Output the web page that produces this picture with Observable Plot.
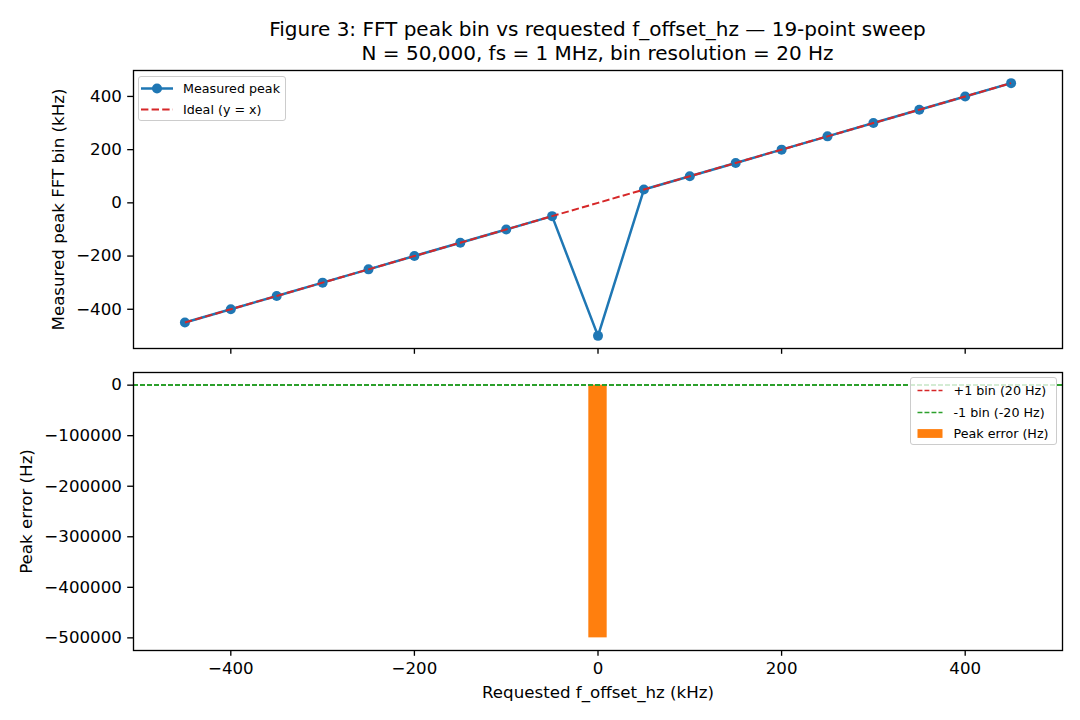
<!DOCTYPE html>
<html>
<head>
<meta charset="utf-8">
<script src="https://cdn.jsdelivr.net/npm/d3@7"></script>
<script src="https://cdn.jsdelivr.net/npm/@observablehq/plot@0.6"></script>
<style>
  body { margin: 0; background: #fff; }
  #fig { position: relative; width: 1080px; height: 720px; background: #fff; overflow: hidden;
         font-family: "DejaVu Sans", sans-serif; color: #000; }
  .title { position: absolute; left: 133px; width: 929px; top: 17px; text-align: center;
           font-size: 20px; line-height: 24px; white-space: nowrap; }
  .panel { position: absolute; left: 0; }
  .legend { position: absolute; background: rgba(255,255,255,0.8); border: 1.33px solid #cccccc;
            border-radius: 3px; box-sizing: border-box; }
  .legend svg { position: absolute; left: 0; top: 0; overflow: visible; }
  .legend span { position: absolute; font-size: 12.7px; line-height: 14px; white-space: nowrap; }
</style>
</head>
<body>
<div id="fig">
  <div class="title">Figure 3: FFT peak bin vs requested f_offset_hz — 19-point sweep<br>N = 50,000, fs = 1 MHz, bin resolution = 20 Hz</div>
  <div class="panel" id="top" style="top:60px"></div>
  <div class="panel" id="bottom" style="top:360px"></div>
</div>
<script>
// 19-point sweep of requested offsets (kHz) and the FFT peak that was found
const requestedKHz = [-450, -400, -350, -300, -250, -200, -150, -100, -50, 0, 50, 100, 150, 200, 250, 300, 350, 400, 450];
const measuredKHz  = [-450, -400, -350, -300, -250, -200, -150, -100, -50, -500, 50, 100, 150, 200, 250, 300, 350, 400, 450];
const peakErrorHz  = [0, 0, 0, 0, 0, 0, 0, 0, 0, -500000, 0, 0, 0, 0, 0, 0, 0, 0, 0];
const binHz = 20;
const barWidthKHz = 20;

const xTicks = [-400, -200, 0, 200, 400];
const yTicksTop = [-400, -200, 0, 200, 400];
const yTicksBottom = [0, -100000, -200000, -300000, -400000, -500000];

const rows = requestedKHz.map((r, i) => ({req: r, meas: measuredKHz[i], err: peakErrorHz[i]}));

// autoscale with a 5% margin on each side
function padded(lo, hi, f = 0.05) { const p = (hi - lo) * f; return [lo - p, hi + p]; }
const xDomain = padded(d3.min(requestedKHz) - barWidthKHz / 2, d3.max(requestedKHz) + barWidthKHz / 2);
const yDomainTop = padded(d3.min([...measuredKHz, ...requestedKHz]), d3.max([...measuredKHz, ...requestedKHz]));
const yDomainBottom = padded(d3.min(peakErrorHz), binHz);

const FONT = "DejaVu Sans";
const TICK_FS = 16.67;
const LABEL_FS = 16.67;
const fmt = d3.format("d");
const common = {
  width: 1080, marginLeft: 133, marginRight: 18,
  style: {fontFamily: FONT, fontSize: TICK_FS + "px", color: "#000", background: "transparent", overflow: "visible"}
};
const tickOpts = {tickSize: 5.8, tickPadding: 5.8, strokeWidth: 1.33, fontSize: TICK_FS, label: null};
const yLabel = (text, dx) =>
  Plot.text([text], {text: d => d, frameAnchor: "left", dx, rotate: -90, textAnchor: "middle", lineAnchor: "middle", fontSize: LABEL_FS});

const topPlot = Plot.plot({
  ...common, height: 300, marginTop: 10, marginBottom: 12,
  x: {domain: xDomain}, y: {domain: yDomainTop},
  marks: [
    Plot.line(rows, {x: "req", y: "meas", stroke: "#1f77b4", strokeWidth: 2.5}),
    Plot.dot(rows, {x: "req", y: "meas", r: 5, fill: "#1f77b4"}),
    Plot.line(rows, {x: "req", y: "req", stroke: "#d62728", strokeWidth: 2,
                     strokeDasharray: "7.4,3.2", strokeLinecap: "butt"}),
    Plot.axisX(xTicks, {...tickOpts, tickFormat: () => ""}),
    Plot.axisY(yTicksTop, {...tickOpts, tickFormat: fmt}),
    yLabel("Measured peak FFT bin (kHz)", -75),
    Plot.frame({stroke: "#000", strokeWidth: 1.33})
  ]
});

const bottomPlot = Plot.plot({
  ...common, height: 360, marginTop: 12, marginBottom: 70,
  x: {domain: xDomain}, y: {domain: yDomainBottom},
  marks: [
    Plot.rect(rows, {x1: d => d.req - barWidthKHz / 2, x2: d => d.req + barWidthKHz / 2, y1: 0, y2: "err", fill: "#ff7f0e"}),
    Plot.ruleY([binHz], {stroke: "#d62728", strokeWidth: 1.33, strokeDasharray: "4.9,2.1", shapeRendering: "crispEdges"}),
    Plot.ruleY([-binHz], {stroke: "#2ca02c", strokeWidth: 1.33, strokeDasharray: "4.9,2.1", shapeRendering: "crispEdges"}),
    Plot.axisX(xTicks, {...tickOpts, tickFormat: fmt}),
    Plot.axisY(yTicksBottom, {...tickOpts, tickFormat: fmt}),
    yLabel("Peak error (Hz)", -107),
    Plot.text(["Requested f_offset_hz (kHz)"], {text: d => d, frameAnchor: "bottom", dy: 42, textAnchor: "middle", lineAnchor: "middle", fontSize: LABEL_FS}),
    Plot.frame({stroke: "#000", strokeWidth: 1.33})
  ]
});

document.getElementById("top").appendChild(topPlot);
document.getElementById("bottom").appendChild(bottomPlot);

// in-axes legends
const NS = "http://www.w3.org/2000/svg";
function legend(box, entries) {
  const div = document.createElement("div");
  div.className = "legend";
  Object.assign(div.style, {left: box.x + "px", top: box.y + "px", width: box.w + "px", height: box.h + "px"});
  const svg = document.createElementNS(NS, "svg");
  svg.setAttribute("width", box.w); svg.setAttribute("height", box.h);
  div.appendChild(svg);
  const add = (tag, attrs) => { const el = document.createElementNS(NS, tag); for (const k in attrs) el.setAttribute(k, attrs[k]); svg.appendChild(el); };
  for (const e of entries) {
    const x0 = box.hx0, x1 = box.hx1, y = e.y;
    if (e.kind === "patch") {
      add("rect", {x: x0, y: y - 4.4, width: x1 - x0, height: 8.8, fill: e.color});
    } else {
      add("line", {x1: x0, x2: x1, y1: y, y2: y, stroke: e.color, "stroke-width": e.width,
                   "stroke-dasharray": e.dash || "none"});
      if (e.marker) add("circle", {cx: (x0 + x1) / 2, cy: y, r: 5, fill: e.color});
    }
    const s = document.createElement("span");
    s.textContent = e.label;
    Object.assign(s.style, {left: box.tx + "px", top: (y - 7) + "px"});
    div.appendChild(s);
  }
  document.getElementById("fig").appendChild(div);
}

legend({x: 138, y: 76, w: 148, h: 45, hx0: 2, hx1: 34, tx: 44}, [
  {label: "Measured peak", color: "#1f77b4", width: 2.5, marker: true, y: 11.5},
  {label: "Ideal (y = x)", color: "#d62728", width: 2, dash: "7.4,3.2", y: 32.5}
]);
legend({x: 910, y: 377, w: 147, h: 68, hx0: 6.5, hx1: 31.5, tx: 42.5}, [
  {label: "+1 bin (20 Hz)", color: "#d62728", width: 1.33, dash: "4.9,2.1", y: 12.5},
  {label: "-1 bin (-20 Hz)", color: "#2ca02c", width: 1.33, dash: "4.9,2.1", y: 34.5},
  {label: "Peak error (Hz)", color: "#ff7f0e", kind: "patch", y: 55.5}
]);
</script>
</body>
</html>
